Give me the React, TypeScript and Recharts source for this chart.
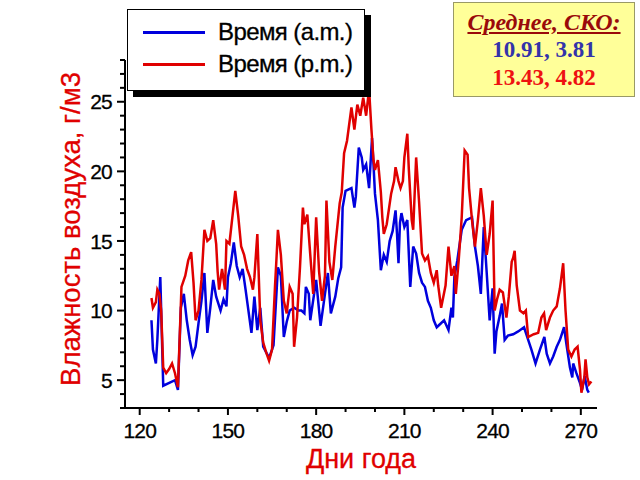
import React from 'react';
import { LineChart, Line, XAxis, YAxis, Legend } from 'recharts';

// Day of year and humidity (g/m3) — morning series
const amDays = [124,124.5,125.5,126,127,128,132,133,134,135,136,137,138,139,140,141,142,143,144,145,146,147.5,148.5,149.5,150,151,152,153,154,155,156,158,159,160,161,162,164,165.5,167,168,169,170,171,172.5,174,175,176,176.5,177.5,178,180,181,181.5,183,184,184.5,185,186.5,187.5,188.5,189,190,192,193,193.5,194.5,195.5,196,197,198,199,199.5,200,201,202,203,204,205,206,207,207.5,208,208.5,209,210,211,212,213,214,215,216,217,218,219,220,221,222,223.5,225,226,226.5,227,228,229.5,231,233,234,235,236,237,238,239,240,240.7,241.3,242.4,243.2,244.1,245.2,247,248.7,250.7,252.1,253.2,254.6,256.1,257.6,258.4,259.5,260.6,261.8,262.9,264.3,265.1,266.3,267.1,267.4,268.5,269.7,270.4,271.3,272.2,272.7];
const amValues = [9.3,7.2,6.2,7.9,12.4,4.6,5.0,4.3,10.2,11.2,9.3,7.9,6.8,7.4,9.1,10.7,12.7,8.4,10.2,12.2,11.0,10.0,10.8,10.3,12.4,13.4,14.9,13.2,12.4,13.0,11.5,8.4,11.0,8.6,10.2,7.4,6.6,7.5,13.1,12.5,8.1,9.2,10.0,10.2,10.0,10.0,9.8,11.7,11.2,9.3,12.2,10.0,8.9,11.2,12.7,11.2,9.8,11.0,12.3,13.1,17.4,18.6,18.8,17.4,18.2,21.7,21.0,20.1,20.5,18.8,22.4,20.5,18.4,16.5,12.9,14.0,13.5,15.0,15.7,17.2,15.5,13.4,16.3,17.0,16.0,16.5,11.7,14.6,14.1,12.7,12.0,11.7,10.7,10.2,9.3,8.8,9.0,9.3,8.6,10.2,9.5,12.4,13.6,15.8,16.5,16.7,14.6,13.2,11.2,16.0,12.7,9.3,11.6,6.9,8.5,9.6,10.5,7.9,8.2,8.3,8.5,8.8,7.9,7.2,6.2,7.2,8.1,6.9,6.2,6.7,7.4,7.9,8.8,7.6,5.9,5.2,6.2,5.5,4.8,4.3,5.3,4.3,4.1];

// Afternoon series
const pmDays = [124,124.5,125.5,126,126.7,127.3,128,129,130,131,132,133,134.2,135.5,136.5,137.5,138.3,139,140,141,142,143,144,145,146,146.5,147,148,149,149.5,150.5,151.5,152.5,153.5,154.5,155.5,156.5,157.5,158.5,159,160,161,162,163,164,165,166,166.5,167,168,169,170,171,172,172.5,173.5,174.5,175.5,176,177,178,179,180,181,182,183,183.5,184.5,185.5,186.5,188,188.7,189.5,190.5,192,193,194,195,196,197,198,198.8,199.5,200,201,202,202.5,203,204,205.5,206.5,207,208,208.7,209.5,210,211,211.5,212.5,213,214,215,216,217,218,219,220,221,221.5,222.5,224,225,226,227,227.5,228.5,229.5,230.5,231.5,232,233,234,235,236,237,238,239,240,240.7,241.5,242.4,243.5,244.7,245.5,246.5,247,247.5,248.2,249.3,250.5,251.3,252.1,254,255.5,256.6,257.5,258.2,259.5,260.6,261.8,262.9,264,264.8,265.7,266.8,267.9,268.9,269.7,270.2,271.2,271.6,272.2,272.8,273.6];
const pmValues = [10.9,10.2,10.6,11.5,11.2,10.0,5.9,5.5,5.8,6.2,5.5,4.5,11.7,12.5,13.6,14.2,12.0,9.3,10.0,12.2,15.8,15.0,15.2,16.5,14.8,12.8,11.5,13.0,11.5,15.0,14.8,16.7,18.6,16.8,14.6,14.0,13.0,12.4,11.5,12.4,15.5,9.3,7.7,7.0,6.4,7.2,11.7,13.7,15.8,14.0,10.7,9.8,11.7,11.2,7.4,9.5,13.1,17.4,16.2,16.9,14.0,11.2,16.7,12.8,10.7,12.5,17.9,13.5,12.2,14.6,17.7,18.5,21.3,22.2,24.6,23.0,24.8,24.0,25.3,24.0,25.9,23.0,20.8,20.1,20.8,18.5,16.7,15.5,16.2,18.4,19.3,20.3,19.3,18.8,19.3,21.0,22.7,20.2,16.5,15.8,21.0,17.8,14.1,13.6,13.9,12.7,12.0,12.9,11.8,10.2,11.8,14.6,12.5,13.2,11.2,13.7,16.7,21.5,21.2,18.8,16.5,14.6,16.5,18.8,16.8,14.0,15.5,17.9,10.0,10.8,11.5,11.3,9.5,11.0,13.5,13.8,14.3,11.8,10.0,9.8,10.0,8.1,8.3,8.4,9.5,9.8,8.6,9.5,10.0,10.3,11.6,13.4,10.0,7.2,6.7,7.2,7.4,5.8,4.1,5.2,6.5,5.2,4.7,4.9];

const xTicks = [120,130,140,150,160,170,180,190,200,210,220,230,240,250,260,270];
const yTicks = [3,4,5,6,7,8,9,10,11,12,13,14,15,16,17,18,19,20,21,22,23,24,25,26,27,28];

const seriesNames = ['Время (a.m.)', 'Время (p.m.)'];
const statsTitle = 'Среднее, СКО:';
const statsAm = '10.91, 3.81';
const statsPm = '13.43, 4.82';
const xTitle = 'Дни года';
const yTitle = 'Влажность воздуха, г/м3';

const amData = amDays.map((d, i) => ({ day: d, v: amValues[i] }));
const pmData = pmDays.map((d, i) => ({ day: d, v: pmValues[i] }));

const FONT = '"Liberation Sans", Arial, sans-serif';
const RED = '#e00000';
const BLUE = '#0000dd';

const XTick = (props: any) => {
  const { x, y, payload } = props;
  const major = payload.value % 30 === 0;
  return (
    <g>
      <line x1={x} x2={x} y1={y} y2={y + (major ? 7 : 4)} stroke="#000" strokeWidth={2} />
      {major && (
        <text x={x} y={y + 30} textAnchor="middle" fontFamily={FONT} fontSize={21} letterSpacing={-0.8} fill="#000" stroke="#000" strokeWidth={0.3}>
          {payload.value}
        </text>
      )}
    </g>
  );
};

const YTick = (props: any) => {
  const { x, y, payload } = props;
  const major = payload.value % 5 === 0;
  return (
    <g>
      <line x1={x - (major ? 8 : 5)} x2={x} y1={y} y2={y} stroke="#000" strokeWidth={2} />
      {major && (
        <text x={x - 13} y={y} dy="0.36em" textAnchor="end" fontFamily={FONT} fontSize={21} letterSpacing={-0.8} fill="#000" stroke="#000" strokeWidth={0.3}>
          {payload.value}
        </text>
      )}
    </g>
  );
};

const LegendBox = (props: any) => {
  const { payload } = props;
  return (
    <div
      style={{
        width: 238,
        height: 82,
        background: '#fff',
        border: '1px solid #000',
        boxShadow: '6px 6px 0 #000',
        boxSizing: 'border-box',
        paddingTop: 6,
      }}
    >
      {(payload || []).map((p: any, i: number) => (
        <div key={i} style={{ display: 'flex', alignItems: 'center', height: 32 }}>
          <div style={{ width: 62, height: 3, background: p.color, marginLeft: 15, marginRight: 13 }} />
          <span style={{ fontFamily: FONT, fontSize: 24, letterSpacing: -0.6, color: '#000', whiteSpace: 'nowrap', WebkitTextStroke: '0.3px #000' }}>
            {p.value}
          </span>
        </div>
      ))}
    </div>
  );
};

export default function App() {
  return (
    <div style={{ position: 'absolute', left: 0, top: 0, width: 640, height: 480, background: '#fff' }}>
      <LineChart width={640} height={480} margin={{ top: 60, right: 43, bottom: 0, left: 0 }}>
        <XAxis
          dataKey="day"
          type="number"
          domain={[115, 275.5]}
          allowDataOverflow
          ticks={xTicks}
          interval={0}
          height={72}
          tickSize={0}
          tickMargin={0}
          tickLine={false}
          axisLine={{ stroke: '#000', strokeWidth: 2 }}
          tick={<XTick />}
          label={{
            content: (p: any) => {
              const vb = p.viewBox;
              return (
                <text x={vb.x + vb.width / 2} y={vb.y + 60} textAnchor="middle" fontFamily={FONT} fontSize={27} fill={RED} stroke={RED} strokeWidth={0.3}>
                  {xTitle}
                </text>
              );
            },
          }}
        />
        <YAxis
          type="number"
          domain={[3, 28]}
          allowDataOverflow
          ticks={yTicks}
          interval={0}
          width={125}
          tickSize={0}
          tickMargin={0}
          tickLine={false}
          axisLine={{ stroke: '#000', strokeWidth: 2 }}
          tick={<YTick />}
          label={{
            content: (p: any) => {
              const vb = p.viewBox;
              const cx = vb.x + 80;
              const cy = vb.y + vb.height / 2 - 5;
              return (
                <text x={cx} y={cy} transform={`rotate(-90 ${cx} ${cy})`} textAnchor="middle" fontFamily={FONT} fontSize={27.5} fill={RED} stroke={RED} strokeWidth={0.3}>
                  {yTitle}
                </text>
              );
            },
          }}
        />
        <Line data={amData} dataKey="v" name={seriesNames[0]} stroke={BLUE} strokeWidth={2.5} dot={false} isAnimationActive={false} type="linear" />
        <Line data={pmData} dataKey="v" name={seriesNames[1]} stroke={RED} strokeWidth={2.5} dot={false} isAnimationActive={false} type="linear" />
        <Legend
          layout="vertical"
          align="center"
          verticalAlign="middle"
          content={<LegendBox />}
          wrapperStyle={{ position: 'absolute', left: 127, top: 9, width: 238, height: 82 }}
        />
      </LineChart>
      <div
        style={{
          position: 'absolute',
          left: 453,
          top: 2,
          width: 182,
          height: 95,
          background: '#ffff99',
          border: '1px solid #999966',
          boxSizing: 'border-box',
          fontFamily: '"Liberation Serif", "Times New Roman", serif',
          fontWeight: 'bold',
          textAlign: 'center',
        }}
      >
        <div style={{ fontSize: 24, fontStyle: 'italic', textDecoration: 'underline', color: '#9a0a0a', lineHeight: '28px', marginTop: 5 }}>
          {statsTitle}
        </div>
        <div style={{ fontSize: 23, color: '#3333aa', lineHeight: '28px' }}>{statsAm}</div>
        <div style={{ fontSize: 23, color: '#ee1111', lineHeight: '28px' }}>{statsPm}</div>
      </div>
    </div>
  );
}
